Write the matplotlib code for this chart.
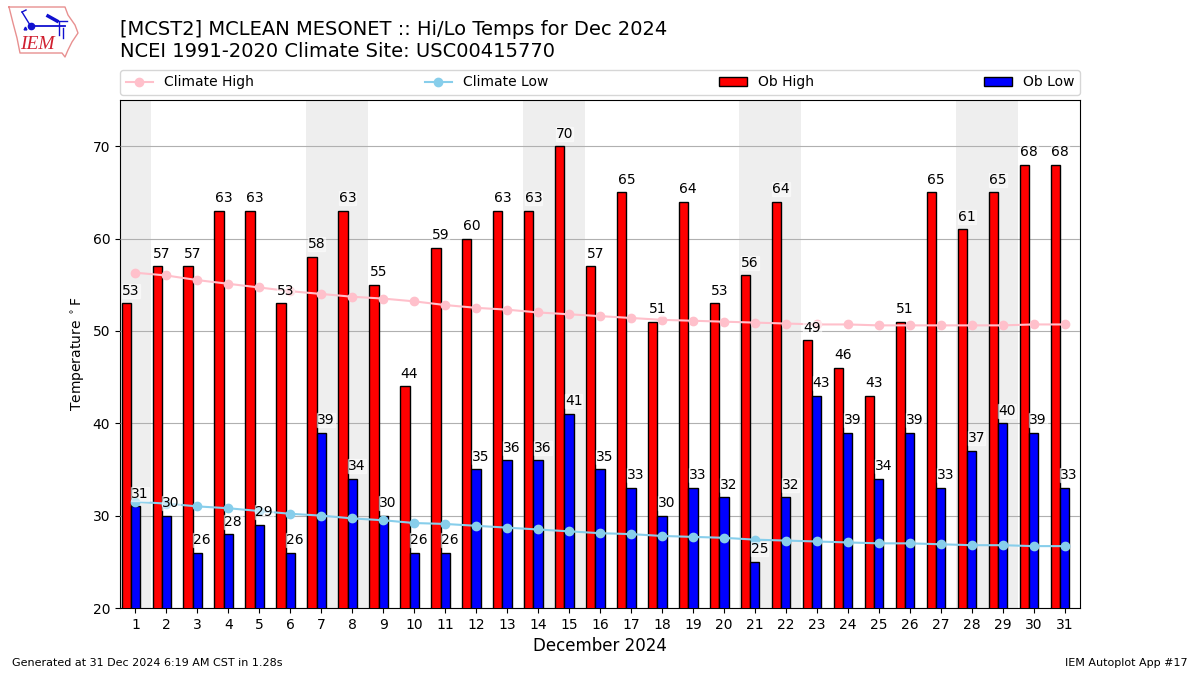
import matplotlib
matplotlib.use('Agg')
import matplotlib.pyplot as plt
import numpy as np

days = np.arange(1, 32)
ob_high = [53, 57, 57, 63, 63, 53, 58, 63, 55, 44, 59, 60, 63, 63, 70, 57,
           65, 51, 64, 53, 56, 64, 49, 46, 43, 51, 65, 61, 65, 68, 68]
ob_low = [31, 30, 26, 28, 29, 26, 39, 34, 30, 26, 26, 35, 36, 36, 41, 35,
          33, 30, 33, 32, 25, 32, 43, 39, 34, 39, 33, 37, 40, 39, 33]
climate_high = [56.3, 56.0, 55.5, 55.1, 54.7, 54.3, 54.0, 53.7, 53.5, 53.2, 52.8,
                52.5, 52.3, 52.0, 51.8, 51.6, 51.4, 51.2, 51.1, 51.0, 50.9,
                50.8, 50.7, 50.7, 50.6, 50.6, 50.6, 50.6, 50.6, 50.7, 50.7]
climate_low = [31.5, 31.3, 31.0, 30.8, 30.5, 30.2, 30.0, 29.7, 29.5, 29.2, 29.1,
               28.9, 28.7, 28.5, 28.3, 28.1, 28.0, 27.8, 27.7, 27.6, 27.4,
               27.3, 27.2, 27.1, 27.0, 27.0, 26.9, 26.8, 26.8, 26.7, 26.7]
weekend_spans = [(0.5, 1.5), (6.5, 8.5), (13.5, 15.5), (20.5, 22.5), (27.5, 29.5)]

# logo outline, in canvas pixels
logo_x = [9, 65, 68, 75, 78, 72, 68, 65, 62, 20, 17, 13, 9]
logo_y = [7, 7, 15, 25, 33, 42, 50, 57, 53, 53, 38, 23, 7]

fig = plt.figure(figsize=(12, 6.75), dpi=100)
ax = fig.add_axes([120 / 1200, 1 - 608 / 675, 960 / 1200, 508 / 675])

for start, end in weekend_spans:
    ax.axvspan(start, end, color='#eeeeee', lw=0, zorder=1)
ax.set_axisbelow(False)
ax.yaxis.grid(True, color='#b0b0b0', zorder=2)

width = 0.3
ax.bar(days - 1.5 * width, ob_high, width=width, align='edge', color='r',
       edgecolor='k', lw=1, label='Ob High', zorder=3)
ax.bar(days - 0.5 * width, ob_low, width=width, align='edge', color='b',
       edgecolor='k', lw=1, label='Ob Low', zorder=3)
ax.plot(days, climate_high, color='pink', marker='o', label='Climate High', zorder=4)
ax.plot(days, climate_low, color='skyblue', marker='o', label='Climate Low', zorder=4)

for day, high, low in zip(days, ob_high, ob_low):
    ax.text(day - width / 2, high + 0.6, str(high), ha='center', va='bottom',
            fontsize=10, zorder=5,
            bbox=dict(color='white', boxstyle='square,pad=0', alpha=0.5))
    ax.text(day + width / 2, low + 0.6, str(low), ha='center', va='bottom',
            fontsize=10, zorder=5,
            bbox=dict(color='white', boxstyle='square,pad=0', alpha=0.5))

ax.set_xlim(0.5, 31.5)
ax.set_ylim(20, 75)
ax.set_xticks(days)
ax.set_xlabel('December 2024', fontsize=12)
ax.set_ylabel(r'Temperature $^\circ$F')

handles, labels = ax.get_legend_handles_labels()
order = [labels.index(name) for name in
         ['Climate High', 'Climate Low', 'Ob High', 'Ob Low']]
ax.legend([handles[i] for i in order], [labels[i] for i in order], ncol=4,
          mode='expand', loc='lower left', bbox_to_anchor=(0, 1.01, 1, 0.05),
          borderaxespad=0)

fig.text(120 / 1200, 1 - 61 / 675,
         '[MCST2] MCLEAN MESONET :: Hi/Lo Temps for Dec 2024\n'
         'NCEI 1991-2020 Climate Site: USC00415770',
         fontsize=14, ha='left', va='bottom')
fig.text(0.01, 0.01, 'Generated at 31 Dec 2024 6:19 AM CST in 1.28s',
         fontsize=8, ha='left', va='bottom')
fig.text(0.99, 0.01, 'IEM Autoplot App #17', fontsize=8, ha='right', va='bottom')

logo = fig.add_axes([0, 0, 1, 1], facecolor='none')
logo.set_xlim(0, 1200)
logo.set_ylim(675, 0)
logo.axis('off')
logo.plot(logo_x, logo_y, color='#e89090', lw=1)
logo.plot([31, 65], [26, 26], color='#1010d0', lw=1.3)
logo.plot([31], [26], 'o', color='#1010d0', ms=4.5)
logo.plot([48, 57], [16, 21], color='#1010d0', lw=2.5)
logo.plot([57, 67], [21, 21], color='#1010d0', lw=1)
logo.plot([59, 59], [22, 35], color='#1010d0', lw=1)
logo.plot([63, 63], [28, 38], color='#1010d0', lw=1)
logo.plot([22, 30], [12, 25], color='#1010d0', lw=1)
logo.plot([22, 26], [12, 10], color='#1010d0', lw=1)
logo.plot([25], [28], '^', color='#1010d0', ms=2)
logo.text(37.5, 44.5, 'IEM', color='#d02030', fontsize=14, style='italic',
          family='Liberation Serif', ha='center', va='center')

fig.savefig('out.png', dpi=100)
